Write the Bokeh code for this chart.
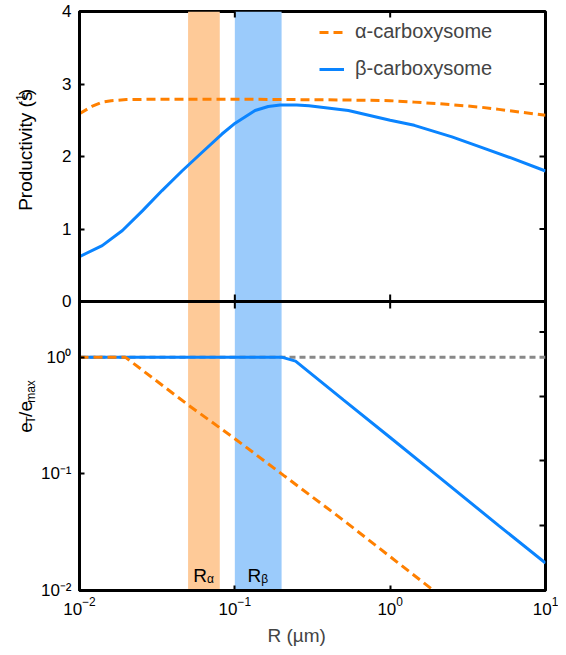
import math
from bokeh.plotting import figure
from bokeh.layouts import row
from bokeh.models import (Range1d, LogAxis, LogScale, FixedTicker, BoxAnnotation, Span)
from bokeh.core.properties import value
from bokeh.embed import file_html
from bokeh.resources import INLINE

# ---------------- data ----------------
x_range_vals = [0.01, 10.0]
x_ticks = [0.01, 0.1, 1.0, 10.0]

# top panel: productivity (s^-1)
y_ticks_top = [0, 1, 2, 3, 4]
r_alpha_top = [0.01, 0.012, 0.014, 0.016, 0.02, 0.03, 0.05, 0.1, 0.2, 0.5, 1.0,
               1.43, 2.0, 3.0, 3.83, 5.0, 7.0, 10.0]
prod_alpha = [2.59, 2.69, 2.75, 2.77, 2.785, 2.79, 2.79, 2.79, 2.786, 2.78, 2.77,
              2.75, 2.73, 2.70, 2.68, 2.65, 2.61, 2.57]
r_beta_top = [0.01, 0.0140, 0.0189, 0.0254, 0.034, 0.0457, 0.0614, 0.0826, 0.1005,
              0.135, 0.164, 0.196, 0.25, 0.3, 0.538, 1.0, 1.43, 2.5, 3.83, 6.0, 10.0]
prod_beta = [0.62, 0.77, 0.98, 1.25, 1.53, 1.80, 2.055, 2.31, 2.46,
             2.635, 2.69, 2.71, 2.71, 2.70, 2.635, 2.50, 2.43, 2.27, 2.13, 1.98, 1.80]

# bottom panel: e_T / e_max (log)
y_range_bot = [0.01, 3.0]
y_ticks_bot = [0.01, 0.1, 1.0]
y_tick_labels_bot = ["10⁻²", "10⁻¹", "10⁰"]
y_right_ticks_bot = [1.64, 0.46, 0.13, 0.036]
ref_level = 1.0
r_alpha_bot = [0.01, 0.0197, 0.05, 0.1, 0.206, 0.5, 1.0, 2.0]
eff_alpha = [1.0, 1.0, 0.39, 0.2, 0.097, 0.04, 0.0195, 0.0095]
r_beta_bot = [0.01, 0.1, 0.2, 0.246, 0.5, 1.0, 2.0, 5.0, 10.0]
eff_beta = [1.0, 1.0, 1.0, 0.924, 0.43, 0.205, 0.097, 0.036, 0.0172]

# carboxysome radius bands
band_lo = [0.05, 0.1]
band_hi = [0.08, 0.2]
band_sub = ["α", "β"]
legend_labels = ["α-carboxysome", "β-carboxysome"]

# ---------------- style / layout ----------------
FONT = "Liberation Sans"
ORANGE = "#FF8000"
BLUE = "#0A84FF"
BAND_COLORS = ["#FECA98", "#9BCBFB"]
GREY = "#888888"

LW = 37                      # strip holding the rotated y titles
ML, MR, MT, MB = 40, 13, 11, 61
W = 521
H_TOP, H_BOT = 290, 289
H = MT + H_TOP + H_BOT + MB

x_lo, x_hi = x_range_vals
y_top_max = y_ticks_top[-1]
lin_start = -y_top_max * H_BOT / H_TOP
log_lo, log_hi = y_range_bot
dec = math.log10(log_hi / log_lo)

def lin_to_log(v):
    px = H_BOT + v * H_TOP / y_top_max
    return log_lo * 10 ** (px * dec / H_BOT)

log_top = lin_to_log(y_top_max)

p = figure(width=W, height=H, x_axis_type="log",
           x_range=Range1d(x_lo, x_hi), y_range=Range1d(lin_start, y_top_max),
           y_axis_location=None, output_backend="svg", toolbar_location=None,
           min_border_left=ML, min_border_right=MR, min_border_top=MT,
           min_border_bottom=MB)
p.extra_y_ranges = {"log": Range1d(log_lo, log_top)}
p.extra_y_scales = {"log": LogScale()}
p.grid.visible = False
p.outline_line_color = "black"
p.outline_line_width = 3
p.background_fill_color = "white"
p.border_fill_color = "white"

def style_axis(ax):
    ax.axis_line_color = "black"
    ax.axis_line_width = 3
    ax.major_tick_in = 5
    ax.major_tick_out = 0
    ax.major_tick_line_width = 2
    ax.minor_tick_line_color = None
    ax.major_label_text_font = FONT
    ax.major_label_text_font_size = "17px"
    ax.major_label_text_color = "black"

xa = p.xaxis[0]
xa.ticker = FixedTicker(ticks=x_ticks)
style_axis(xa)
xa.major_label_standoff = 6
xa.axis_label = "R (µm)" + "\u00a0" * 6
xa.axis_label_text_font = FONT
xa.axis_label_text_font_size = "19px"
xa.axis_label_text_font_style = "normal"
xa.axis_label_standoff = 7

# one left axis carries both panels' ticks: log ticks (bottom) + linear ticks (top)
top_tick_pos = [lin_to_log(v) for v in y_ticks_top]
ya = LogAxis(y_range_name="log", ticker=FixedTicker(ticks=y_ticks_bot + top_tick_pos))
style_axis(ya)
ya.major_label_standoff = 8
overrides = {pos: str(v) for pos, v in zip(top_tick_pos, y_ticks_top)}
overrides.update({pos: lab for pos, lab in zip(y_ticks_bot, y_tick_labels_bot)})
ya.major_label_overrides = overrides
p.add_layout(ya, "left")

# bands
for lo, hi, c in zip(band_lo, band_hi, BAND_COLORS):
    p.add_layout(BoxAnnotation(left=lo, right=hi, fill_color=c, fill_alpha=1.0,
                               line_color=None, level="underlay"))
# reference line at e_T/e_max = 1
p.add_layout(Span(location=ref_level, dimension="width", y_range_name="log",
                  line_color=GREY, line_width=3, line_dash="6 4", level="underlay"))
# divider between panels
p.add_layout(Span(location=0, dimension="width", line_color="black", line_width=3))

# top panel curves
p.line(r_beta_top, prod_beta, line_color=BLUE, line_width=3,
       legend_label=legend_labels[1])
p.line(r_alpha_top, prod_alpha, line_color=ORANGE, line_width=3, line_dash="9 5",
       legend_label=legend_labels[0])

# bottom panel curves
p.line(r_beta_bot, eff_beta, line_color=BLUE, line_width=3, y_range_name="log")
p.line(r_alpha_bot, eff_alpha, line_color=ORANGE, line_width=3, line_dash="9 5",
       y_range_name="log")

# ticks not provided by axes (inward)
inner_x = x_ticks[1:-1]
inner_y_top = y_ticks_top[1:-1]
tick_kw = dict(marker="dash", line_color="black", line_width=2)
p.scatter(inner_x, [y_top_max] * len(inner_x), angle=math.pi / 2, size=12, **tick_kw)
p.scatter(inner_x, [0] * len(inner_x), angle=math.pi / 2, size=14, **tick_kw)
p.scatter([x_hi] * len(inner_y_top), inner_y_top, size=12, **tick_kw)
p.scatter([x_hi] * len(y_right_ticks_bot), y_right_ticks_bot, size=12,
          y_range_name="log", **tick_kw)

# R_alpha, R_beta labels
cx = [math.sqrt(a * b) for a, b in zip(band_lo, band_hi)]
r_label_y = 0.0135
p.text(cx, [r_label_y] * len(cx), text=["R"] * len(cx), text_align="right",
       text_baseline="alphabetic", x_offset=3, text_font=value(FONT),
       text_font_size="19px", text_color="black", y_range_name="log")
p.text(cx, [r_label_y] * len(cx), text=band_sub, text_align="left",
       text_baseline="alphabetic", x_offset=3, y_offset=4, text_font=value(FONT),
       text_font_size="12px", text_color="black", y_range_name="log")

# legend
lg = p.legend[0]
lg.items = [lg.items[1], lg.items[0]]
lg.location = (240, 510)
lg.padding = 0
lg.margin = 0
lg.spacing = 14
lg.glyph_width = 25
lg.glyph_height = 20
lg.label_height = 20
lg.label_standoff = 11
lg.label_text_font = FONT
lg.label_text_font_size = "20px"
lg.background_fill_alpha = 0
lg.border_line_color = None

# ---------------- strip with the rotated y-axis titles ----------------
t = figure(width=LW, height=H, x_range=Range1d(0, LW), y_range=Range1d(0, H),
           x_axis_location=None, y_axis_location=None, output_backend="svg",
           toolbar_location=None, min_border_left=0, min_border_right=0,
           min_border_top=0, min_border_bottom=0)
t.grid.visible = False
t.outline_line_color = None
t.background_fill_color = "white"
t.border_fill_color = "white"

AW = {'P': 667, 'r': 333, 'o': 556, 'd': 556, 'u': 556, 'c': 500, 't': 278,
      'i': 222, 'v': 500, 'y': 500, ' ': 278, '(': 333, 's': 500, '-': 333,
      '1': 556, ')': 333, 'e': 556, 'T': 611, '/': 278, 'm': 833, 'a': 556,
      'x': 500}

def tw(s, size):
    return sum(AW.get(c, 556) for c in s) * size / 1000.0

def vtitle(pieces, cxl, cy):
    total = sum(tw(s, f) for s, f, _ in pieces)
    yy = cy - total / 2
    for s, f, dx in pieces:
        t.text([cxl + dx], [yy], text=[s], angle=math.pi / 2, text_align="left",
               text_baseline="middle", text_font=value(FONT),
               text_font_size=f"{f}px", text_color="black")
        yy += tw(s, f)

# centres measured from the strip bottom; dx < 0 raises (superscript), > 0 lowers
vtitle([("Productivity (s", 19, 0), ("-1", 12, -4.5), (")", 19, 0)],
       24.5, H - (MT + H_TOP / 2))
vtitle([("e", 19, 0), ("T", 12, 6), ("/e", 19, 0), ("max", 12, 6)],
       24.5, H - (MT + H_TOP + H_BOT / 2))

layout = row(t, p)
open("out.html", "w").write(file_html(layout, INLINE))
